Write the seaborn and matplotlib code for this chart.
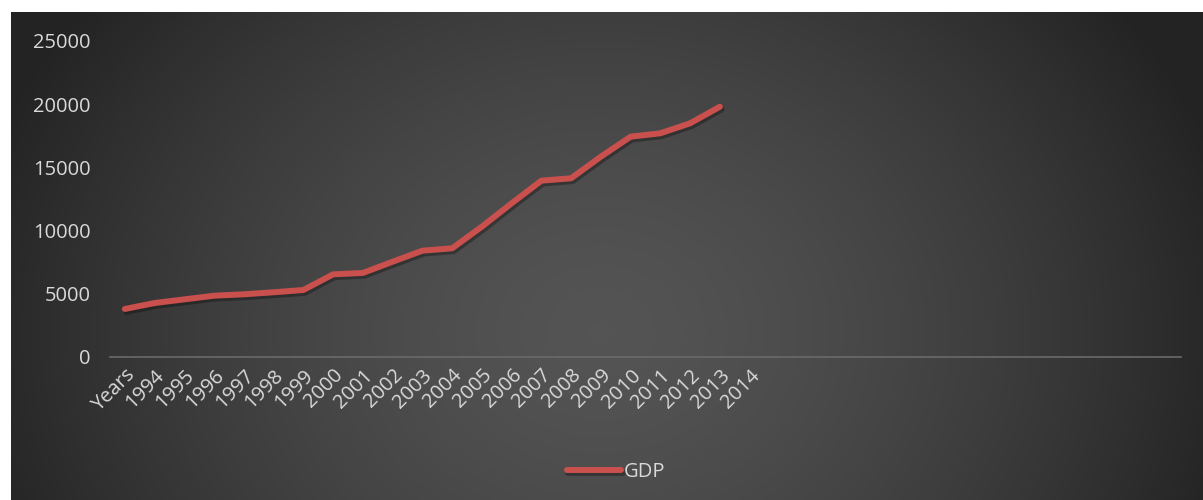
import numpy as np
import pandas as pd
import matplotlib.pyplot as plt
import matplotlib.patheffects as pe
import seaborn as sns

# category labels on the x axis (the rest of the axis is empty slots)
years = ["Years", "1994", "1995", "1996", "1997", "1998", "1999", "2000",
         "2001", "2002", "2003", "2004", "2005", "2006", "2007", "2008",
         "2009", "2010", "2011", "2012", "2013", "2014"]
n_slots = 36

gdp = [3800, 4270, 4560, 4850, 4960, 5120, 5300, 6540, 6650, 7540, 8410,
       8600, 10310, 12160, 13950, 14140, 15850, 17430, 17700, 18490, 19800]

df = pd.DataFrame({"pos": np.arange(len(gdp)), "GDP": gdp})

sns.set_style("dark")
plt.rcParams["font.family"] = ["Open Sans", "DejaVu Sans"]

fig = plt.figure(figsize=(12.03, 5.0), dpi=100)
fig.patch.set_facecolor("white")

# dark radial background of the chart area
bg = fig.add_axes([11 / 1203, 0, 1 - 11 / 1203, 488 / 500])
W, H = 1192, 488
xx, yy = np.meshgrid(np.arange(W), np.arange(H))
r = np.sqrt(((xx - 590) / 600.0) ** 2 + ((yy - 320) / 500.0) ** 2)
shade = np.clip(0.33 - 0.17 * r ** 1.5, 0.14, 0.34)
bg.imshow(np.dstack([shade, shade, shade]), aspect="auto", interpolation="bilinear")
bg.set_axis_off()

ax = fig.add_axes([110 / 1203, 1 - 357 / 500, (1181 - 110) / 1203, (357 - 41) / 500])
ax.patch.set_alpha(0)

sns.lineplot(data=df, x="pos", y="GDP", ax=ax, color="#C9504D", linewidth=4.3,
             label="GDP", legend=False,
             path_effects=[pe.SimpleLineShadow(offset=(1.2, -2.0), alpha=0.3, shadow_color="black"),
                           pe.Normal()])

ax.set_xlim(-0.5, n_slots - 0.5)
ax.set_ylim(0, 25000)
ax.set_yticks([0, 5000, 10000, 15000, 20000, 25000])
ax.set_xticks(np.arange(len(years)))
ax.set_xticklabels(years, rotation=45, ha="right", rotation_mode="anchor")
ax.tick_params(axis="y", colors="#D9D9D9", labelsize=14.5, length=0, pad=14)
ax.tick_params(axis="x", colors="#D9D9D9", labelsize=14.5, length=0, pad=6)
ax.set_xlabel("")
ax.set_ylabel("")
ax.grid(False)
for s in ["top", "right", "left"]:
    ax.spines[s].set_visible(False)
ax.spines["bottom"].set_color("#6A6A6A")
ax.spines["bottom"].set_linewidth(1.2)

handles, labels = ax.get_legend_handles_labels()
leg = fig.legend(handles, labels, loc="center", bbox_to_anchor=(616 / 1203, 1 - 472 / 500),
                 frameon=False, fontsize=14.5, handlelength=2.7, handletextpad=0.15)
for t in leg.get_texts():
    t.set_color("#D9D9D9")

fig.savefig("out.png", dpi=100, facecolor=fig.get_facecolor())
